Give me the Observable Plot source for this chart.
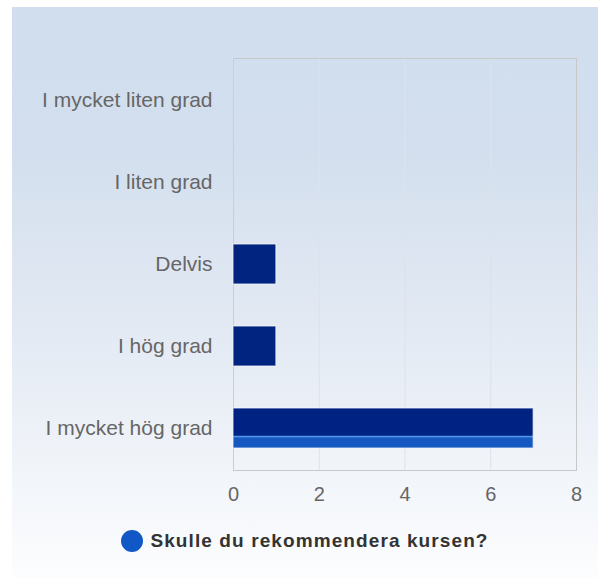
<!DOCTYPE html>
<html><head><meta charset="utf-8">
<script src="https://cdn.jsdelivr.net/npm/d3@7"></script>
<script src="https://cdn.jsdelivr.net/npm/@observablehq/plot@0.6"></script>
<style>
body{margin:0;width:598px;height:578px;background:#fff;overflow:hidden;font-family:"Liberation Sans",Arial,sans-serif}
#wrap{position:absolute;left:12px;top:7px;width:586px;height:571px;background:linear-gradient(to bottom,#d0deed 0%,#d3dfee 25%,#e2e9f3 55%,#fcfdfe 100%)}
#chart svg{display:block}
#legend{display:flex;justify-content:center;align-items:center;margin-top:7px;height:24px}
#legend .dot{width:22px;height:22px;border-radius:50%;background:#1158c7;margin-right:7px}
#legend .txt{font-weight:bold;font-size:19px;letter-spacing:1.1px;color:#333}
</style></head>
<body>
<div id="wrap"><div id="chart"></div><div id="legend"><span class="dot"></span><span class="txt"></span></div></div>
<script>
const categories = ["I mycket liten grad", "I liten grad", "Delvis", "I hög grad", "I mycket hög grad"];
const values = [0, 0, 1, 1, 7];
const xTicks = [0, 2, 4, 6, 8];
const seriesName = "Skulle du rekommendera kursen?";

const data = categories.map((c, i) => ({category: c, value: values[i]}));
const highlighted = categories[4];

const chart = Plot.plot({
  width: 586, height: 515,
  marginLeft: 221, marginRight: 22, marginTop: 51, marginBottom: 52,
  style: {background: "transparent", fontFamily: "'Liberation Sans', Arial, sans-serif", fontSize: "20px", color: "#666"},
  x: {domain: [0, 8], ticks: xTicks, label: null, tickSize: 0, tickPadding: 16, tickFormat: d => String(d)},
  y: {domain: categories, label: null, tickSize: 0, tickPadding: 21, paddingInner: 0.51, paddingOuter: 0.255},
  marks: [
    Plot.gridX(xTicks.slice(1, -1), {stroke: "#dde2ea", strokeOpacity: 1}),
    Plot.frame({stroke: "#c8c8c8"}),
    Plot.ruleX([0], {stroke: "#c6cde4"}),
    Plot.barX(data.filter(d => d.value > 0 && d.category !== highlighted), {x: "value", y: "category", fill: "#00247f", stroke: "#f4f6fa", strokeOpacity: 0.8}),
    Plot.barX(data.filter(d => d.value > 0 && d.category === highlighted), {x: "value", y: "category", fill: "url(#barGrad)", stroke: "#f4f6fa", strokeOpacity: 0.8})
  ]
});
const svg = d3.select(chart);
svg.selectAll("g[aria-label='y-axis tick label'] text").attr("fill", "#666").style("font-size", "21px");
svg.selectAll("g[aria-label='x-axis tick label'] text").attr("fill", "#666");
const defs = svg.insert("defs", ":first-child");
const g = defs.append("linearGradient").attr("id", "barGrad").attr("x1", 0).attr("y1", 0).attr("x2", 0).attr("y2", 1);
[[0, "#002283"], [0.66, "#002283"], [0.69, "#0f3fa0"], [0.71, "#5a9ae8"], [0.75, "#1558c2"], [1, "#1558c2"]]
  .forEach(([o, c]) => g.append("stop").attr("offset", o).attr("stop-color", c));
document.getElementById("chart").appendChild(chart);
document.querySelector("#legend .txt").textContent = seriesName;
</script>
</body></html>
